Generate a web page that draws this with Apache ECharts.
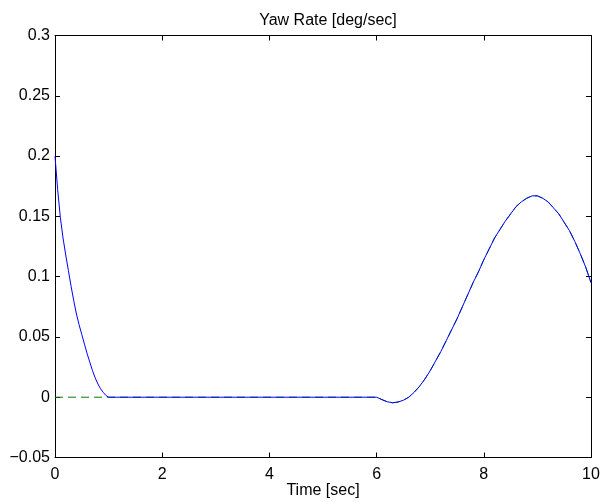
<!DOCTYPE html>
<html>
<head>
<meta charset="utf-8">
<script src="https://cdn.jsdelivr.net/npm/echarts@6/dist/echarts.min.js"></script>
<style>html,body{margin:0;padding:0;background:#fff}#c{width:600px;height:502px}</style>
</head>
<body>
<div id="c"></div>
<script>
var titleText = 'Yaw Rate [deg/sec]';
var xName = 'Time [sec]';
var xTicks = [0, 2, 4, 6, 8, 10];
var yTicks = [-0.05, 0, 0.05, 0.1, 0.15, 0.2, 0.25, 0.3];

// Measured (blue) response
var blueT = [0, 0.05, 0.1, 0.15, 0.2, 0.25, 0.3, 0.35, 0.4, 0.45, 0.5, 0.55, 0.6, 0.65, 0.7, 0.75, 0.8, 0.85, 0.9, 0.95, 1.0,
  6.0, 6.03, 6.1, 6.2, 6.3, 6.4, 6.5, 6.6, 6.7, 6.8, 6.9, 7.0, 7.1, 7.2, 7.3, 7.4, 7.5, 7.6, 7.7, 7.8, 7.9,
  8.0, 8.1, 8.2, 8.3, 8.4, 8.5, 8.6, 8.7, 8.8, 8.9, 9.0, 9.1, 9.2, 9.3, 9.4, 9.5, 9.6, 9.7, 9.8, 9.9, 10];
var blueV = [0.2, 0.172, 0.149, 0.132, 0.118, 0.105, 0.092, 0.080, 0.069, 0.060, 0.052, 0.044, 0.036, 0.029, 0.022, 0.016, 0.011, 0.007, 0.004, 0.0015, 0,
  0, 0.001, -0.002, -0.0038, -0.0046, -0.004, -0.0025, 0.0, 0.004, 0.009, 0.015, 0.022, 0.030, 0.038, 0.047, 0.056, 0.065, 0.075, 0.085, 0.095, 0.104,
  0.114, 0.123, 0.132, 0.139, 0.146, 0.152, 0.158, 0.162, 0.165, 0.167, 0.167, 0.165, 0.162, 0.157, 0.152, 0.145, 0.138, 0.129, 0.119, 0.108, 0.095];

// Reference (green dashed) signal
var greenT = [0, 6.0, 6.1, 6.2, 6.3, 6.4, 6.5, 6.6, 6.7, 6.8, 6.9, 7.0, 7.1, 7.2, 7.3, 7.4, 7.5, 7.6, 7.7, 7.8, 7.9,
  8.0, 8.1, 8.2, 8.3, 8.4, 8.5, 8.6, 8.7, 8.8, 8.9, 9.0, 9.1, 9.2, 9.3, 9.4, 9.5, 9.6, 9.7, 9.8, 9.9, 10];
var greenV = [0, 0, -0.002, -0.0038, -0.0046, -0.004, -0.0025, 0.0, 0.004, 0.009, 0.015, 0.022, 0.030, 0.038, 0.047, 0.056, 0.065, 0.075, 0.085, 0.095, 0.104,
  0.114, 0.123, 0.132, 0.139, 0.146, 0.152, 0.158, 0.162, 0.165, 0.167, 0.167, 0.165, 0.162, 0.157, 0.152, 0.145, 0.138, 0.129, 0.119, 0.108, 0.095];

function pairs(t, v) { return t.map(function (x, i) { return [x, v[i]]; }); }

var font = 'Liberation Sans, Arial, Helvetica, sans-serif';
var axisLine = { show: true, onZero: false, lineStyle: { color: '#000', width: 1 } };
var tick = { show: true, inside: true, length: 5, lineStyle: { color: '#000', width: 1 } };

var chart = echarts.init(document.getElementById('c'), null, { renderer: 'canvas' });
chart.setOption({
  animation: false,
  backgroundColor: '#fff',
  title: {
    text: titleText, left: 323, top: 8, textAlign: 'center',
    textStyle: { fontFamily: font, fontSize: 16, fontWeight: 'normal', color: '#000' }
  },
  grid: { left: 55, right: 9, top: 35.5, bottom: 44.5, containLabel: false, outerBoundsMode: 'none' },
  xAxis: [
    {
      type: 'value', min: 0, max: 10, interval: 2, position: 'bottom',
      name: xName, nameLocation: 'middle', nameGap: 25, nameMoveOverlap: false,
      nameTextStyle: { fontFamily: font, fontSize: 16, color: '#000' },
      axisLine: axisLine, axisTick: tick, splitLine: { show: false },
      axisLabel: { fontFamily: font, fontSize: 16, color: '#000', margin: 9 }
    },
    {
      type: 'value', min: 0, max: 10, interval: 2, position: 'top',
      axisLine: axisLine, axisTick: tick, splitLine: { show: false },
      axisLabel: { show: false }
    }
  ],
  yAxis: [
    {
      type: 'value', min: -0.05, max: 0.3, interval: 0.05, position: 'left',
      axisLine: axisLine, axisTick: tick, splitLine: { show: false },
      axisLabel: { fontFamily: font, fontSize: 16, color: '#000', margin: 5,
        formatter: function (v) { var s = String(+v.toFixed(2)); return s.replace('-', '\u2212'); } }
    },
    {
      type: 'value', min: -0.05, max: 0.3, interval: 0.05, position: 'right',
      axisLine: axisLine, axisTick: tick, splitLine: { show: false },
      axisLabel: { show: false }
    }
  ],
  series: [
    {
      type: 'line', data: pairs(greenT, greenV), showSymbol: false, smooth: false,
      lineStyle: { color: '#008000', width: 1, type: [8, 5] }, z: 2
    },
    {
      type: 'line', data: pairs(blueT, blueV), showSymbol: false, smooth: false,
      lineStyle: { color: '#0000ff', width: 1 }, z: 3
    }
  ]
});
</script>
</body>
</html>
